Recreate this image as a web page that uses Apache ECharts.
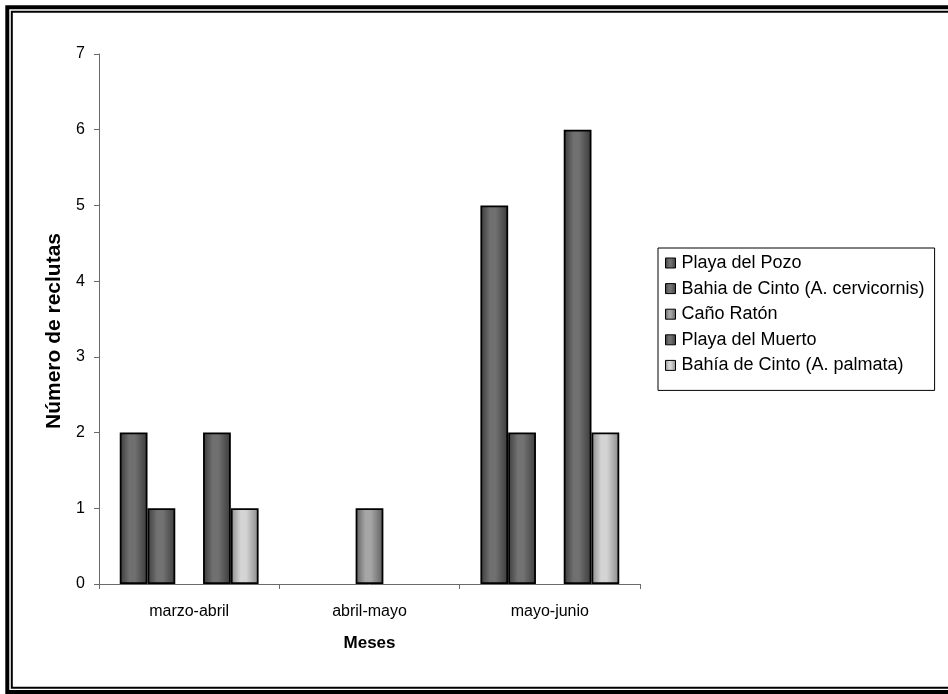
<!DOCTYPE html>
<html>
<head>
<meta charset="utf-8">
<script src="https://cdn.jsdelivr.net/npm/echarts@6/dist/echarts.min.js"></script>
<style>
html,body{margin:0;padding:0;background:#fff;}
#chart{width:948px;height:694px;}
</style>
</head>
<body>
<div id="chart"></div>
<script>
const categories = ['marzo-abril', 'abril-mayo', 'mayo-junio'];
const seriesNames = ['Playa del Pozo', 'Bahia de Cinto (A. cervicornis)', 'Caño Ratón', 'Playa del Muerto', 'Bahía de Cinto (A. palmata)'];
const playaDelPozo = [2, 0, 5];
const bahiaCintoCervicornis = [1, 0, 2];
const canoRaton = [0, 1, 0];
const playaDelMuerto = [2, 0, 6];
const bahiaCintoPalmata = [1, 0, 2];
const yTicks = [0, 1, 2, 3, 4, 5, 6, 7];

const FONT = '"Liberation Sans", Arial, sans-serif';

function grad(edge, mid) {
  return new echarts.graphic.LinearGradient(0, 0, 1, 0, [
    { offset: 0, color: edge },
    { offset: 0.35, color: mid },
    { offset: 0.55, color: mid },
    { offset: 1, color: edge }
  ]);
}
const fills = [
  grad('#3a3a3a', '#707070'),
  grad('#3e3e3e', '#727272'),
  grad('#5e5e5e', '#a6a6a6'),
  grad('#3a3a3a', '#707070'),
  grad('#8a8a8a', '#d4d4d4')
];
const values = [playaDelPozo, bahiaCintoCervicornis, canoRaton, playaDelMuerto, bahiaCintoPalmata];

const chart = echarts.init(document.getElementById('chart'), null, { renderer: 'canvas' });
chart.setOption({
  animation: false,
  backgroundColor: '#fff',
  textStyle: { fontFamily: FONT },
  graphic: [
    { type: 'rect', shape: { x: 7.3, y: 7.3, width: 960, height: 684.7 }, style: { fill: 'none', stroke: '#000', lineWidth: 4 }, silent: true },
    { type: 'rect', shape: { x: 11.8, y: 11.8, width: 960, height: 675.9 }, style: { fill: 'none', stroke: '#000', lineWidth: 2 }, silent: true }
  ],
  grid: { left: 99, right: 308, top: 54, bottom: 110, containLabel: false },
  legend: {
    orient: 'vertical',
    left: 658,
    top: 248,
    padding: [6, 10, 16, 7],
    itemGap: 7.6,
    itemWidth: 10,
    itemHeight: 10,
    icon: 'rect',
    borderColor: '#000',
    borderWidth: 1,
    itemStyle: { borderColor: '#000', borderWidth: 1 },
    textStyle: { fontFamily: FONT, fontSize: 18, lineHeight: 18, color: '#000', padding: [0, 0, 0, 1] },
    data: seriesNames
  },
  xAxis: {
    type: 'category',
    data: categories,
    boundaryGap: true,
    name: 'Meses',
    nameLocation: 'middle',
    nameGap: 51,
    nameTextStyle: { fontFamily: FONT, fontSize: 17, fontWeight: 'bold', color: '#000' },
    axisLine: { lineStyle: { color: '#6a6a6a', width: 1 } },
    axisTick: { show: true, length: 5, alignWithLabel: false, lineStyle: { color: '#6a6a6a' } },
    axisLabel: { fontFamily: FONT, fontSize: 16, color: '#000', margin: 20 },
    splitLine: { show: false }
  },
  yAxis: {
    type: 'value',
    min: 0,
    max: 7,
    interval: 1,
    name: 'Número de reclutas',
    nameLocation: 'middle',
    nameGap: 34,
    nameRotate: 90,
    nameTextStyle: { fontFamily: FONT, fontSize: 21, fontWeight: 'bold', color: '#000', padding: [0, 24, 0, 0] },
    axisLine: { show: true, lineStyle: { color: '#6a6a6a', width: 1 } },
    axisTick: { show: true, length: 5, inside: false, lineStyle: { color: '#6a6a6a' } },
    axisLabel: { fontFamily: FONT, fontSize: 16, color: '#000', margin: 14,
      formatter: v => (yTicks.indexOf(v) >= 0 ? String(v) : '') },
    splitLine: { show: false }
  },
  series: seriesNames.map((name, i) => ({
    name: name,
    type: 'bar',
    barGap: '0%',
    barCategoryGap: '23%',
    itemStyle: { color: fills[i], borderColor: '#000', borderWidth: 1.8 },
    data: values[i].map(v => v === 0 ? { value: v, itemStyle: { borderWidth: 0 } } : v)
  }))
});
</script>
</body>
</html>
